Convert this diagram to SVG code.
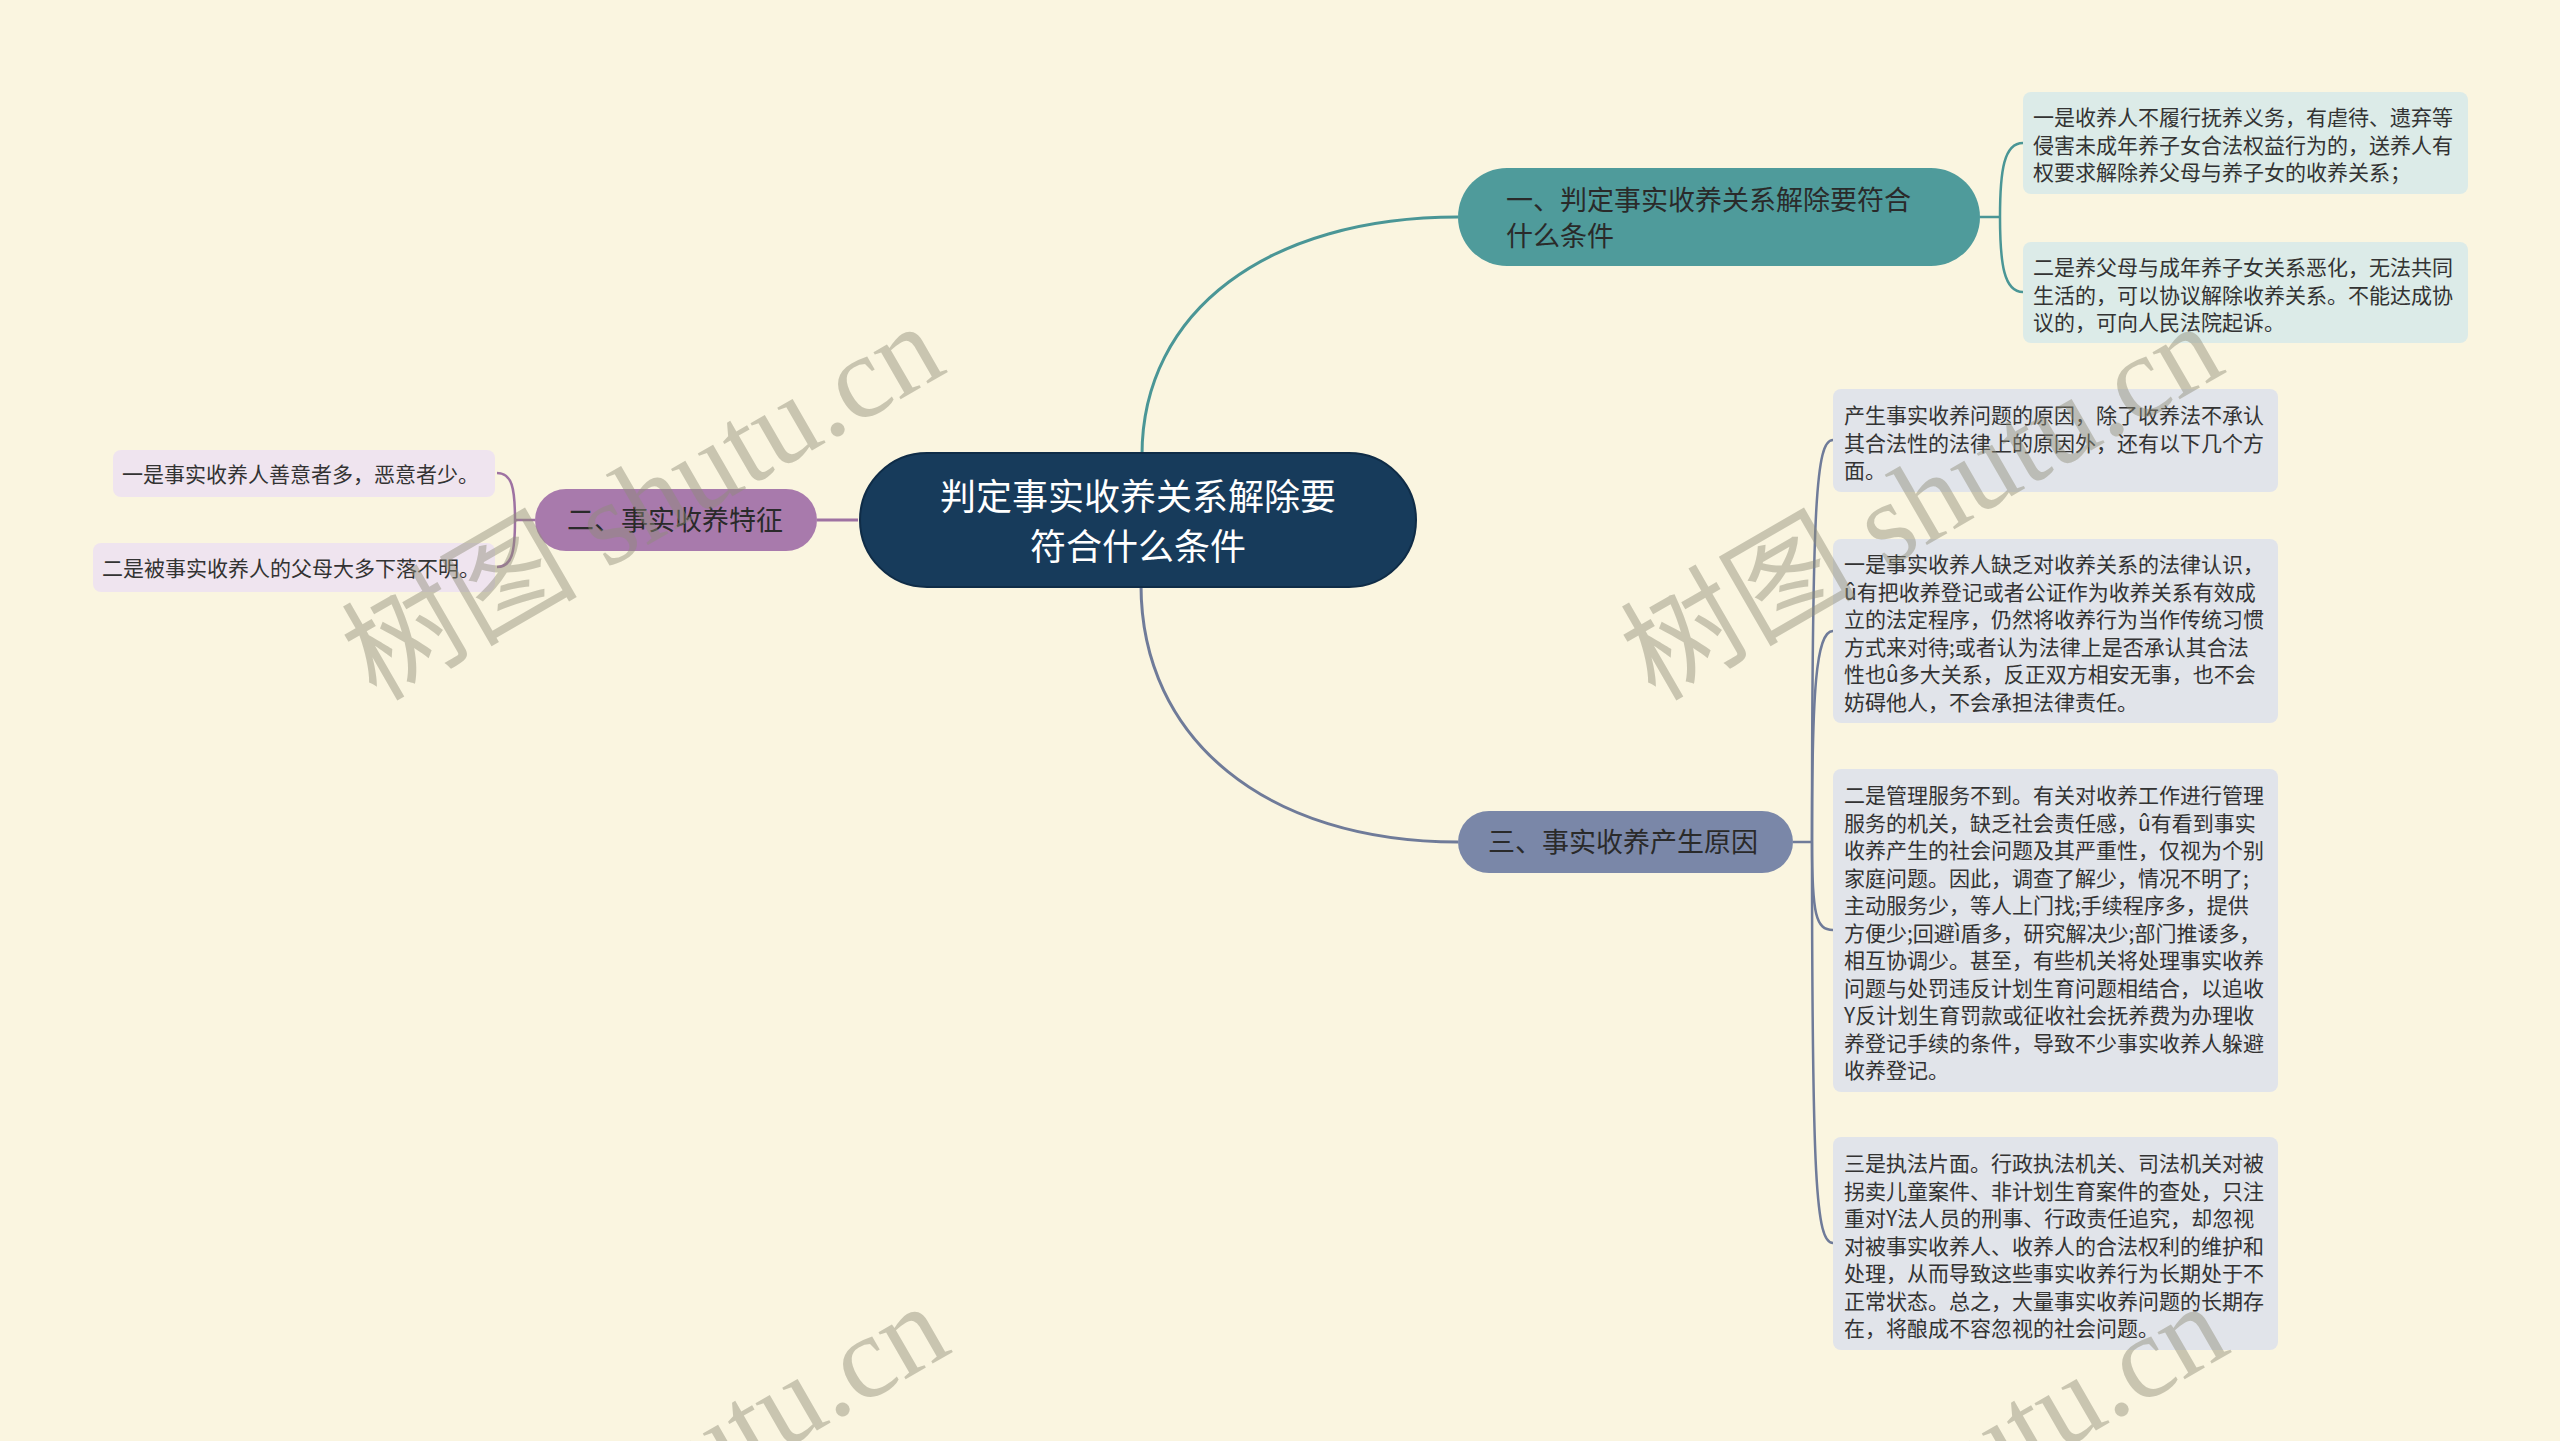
<svg xmlns="http://www.w3.org/2000/svg" width="2560" height="1441" viewBox="0 0 2560 1441">
<defs>
<style>
.bg{fill:#faf5e0}
.t{font-family:"Noto Sans CJK SC","Noto Sans",sans-serif}
.leaf{font-size:21px;fill:#333333}
.sub{font-size:27px;fill:#2a2a2a}
.root{font-size:36px;fill:#ffffff}
.c1{fill:none;stroke:#4a9696;stroke-width:3}
.c2{fill:none;stroke:#9e72a2;stroke-width:3}
.c3{fill:none;stroke:#6f7b99;stroke-width:3}
.b1{fill:none;stroke:#4a9696;stroke-width:2.5}
.b2{fill:none;stroke:#9e72a2;stroke-width:2.5}
.b3{fill:none;stroke:#6f7b99;stroke-width:2.5}
.l1{fill:#dcebe8}
.l2{fill:#efe4ef}
.l3{fill:#e1e4ea}
.wm{font-family:"Liberation Serif","Noto Sans CJK SC",serif;font-size:118px;fill:#8f8d78;opacity:0.45}
</style>
</defs>
<rect class="bg" x="0" y="0" width="2560" height="1441"/>

<g id="connectors">
<path class="c1" d="M1142,455 C1142,311 1268,217 1458,217"/>
<path class="c3" d="M1141,585 C1141,740 1267,842 1458,842"/>
<path class="c2" d="M858,520 L817,520"/>
<path class="b1" d="M1980,217 L2000,217"/>
<path class="b1" d="M2000,217 C2000,170 2004,143 2023,143"/>
<path class="b1" d="M2000,217 C2000,264 2004,292 2023,292"/>
<path class="b2" d="M535,520 L515,520"/>
<path class="b2" d="M515,520 C515,488 512,473 497,473"/>
<path class="b2" d="M515,520 C515,552 512,567 497,567"/>
<path class="b3" d="M1793,842 L1812,842"/>
<path class="b3" d="M1812,842 C1812,500 1816,440 1833,440"/>
<path class="b3" d="M1812,842 C1812,690 1816,631 1833,631"/>
<path class="b3" d="M1812,842 C1812,915 1816,930 1833,930"/>
<path class="b3" d="M1812,842 C1812,1183 1816,1243 1833,1243"/>
</g>

<g id="root">
<rect x="860" y="453" width="556" height="134" rx="67" fill="#173b5b" stroke="#0f2c47" stroke-width="2"/>
<text class="t root" x="1138" y="510" text-anchor="middle">判定事实收养关系解除要</text>
<text class="t root" x="1138" y="560" text-anchor="middle">符合什么条件</text>
</g>

<g id="node1">
<rect x="1458" y="168" width="522" height="98" rx="49" fill="#4f9b9b"/>
<text class="t sub" x="1506" y="210">一、判定事实收养关系解除要符合</text>
<text class="t sub" x="1506" y="246">什么条件</text>
</g>
<g id="node1-leaf1">
<rect class="l1" x="2023" y="92" width="445" height="102" rx="8"/>
<text class="t leaf" x="2033" y="125">一是收养人不履行抚养义务，有虐待、遗弃等</text>
<text class="t leaf" x="2033" y="152.5">侵害未成年养子女合法权益行为的，送养人有</text>
<text class="t leaf" x="2033" y="180">权要求解除养父母与养子女的收养关系；</text>
</g>
<g id="node1-leaf2">
<rect class="l1" x="2023" y="242" width="445" height="101" rx="8"/>
<text class="t leaf" x="2033" y="275">二是养父母与成年养子女关系恶化，无法共同</text>
<text class="t leaf" x="2033" y="302.5">生活的，可以协议解除收养关系。不能达成协</text>
<text class="t leaf" x="2033" y="330">议的，可向人民法院起诉。</text>
</g>

<g id="node2">
<rect x="535" y="489" width="282" height="62" rx="31" fill="#a87aac"/>
<text class="t sub" x="567" y="530">二、事实收养特征</text>
</g>
<g id="node2-leaf1">
<rect class="l2" x="113" y="450" width="382" height="47" rx="8"/>
<text class="t leaf" x="122" y="482">一是事实收养人善意者多，恶意者少。</text>
</g>
<g id="node2-leaf2">
<rect class="l2" x="93" y="543" width="402" height="49" rx="8"/>
<text class="t leaf" x="102" y="576">二是被事实收养人的父母大多下落不明。</text>
</g>

<g id="node3">
<rect x="1458" y="811" width="335" height="62" rx="31" fill="#7a87a8"/>
<text class="t sub" x="1488" y="852">三、事实收养产生原因</text>
</g>
<g id="node3-leaf1">
<rect class="l3" x="1833" y="389" width="445" height="103" rx="8"/>
<text class="t leaf" x="1844" y="423">产生事实收养问题的原因，除了收养法不承认</text>
<text class="t leaf" x="1844" y="450.5">其合法性的法律上的原因外，还有以下几个方</text>
<text class="t leaf" x="1844" y="478">面。</text>
</g>
<g id="node3-leaf2">
<rect class="l3" x="1833" y="539" width="445" height="184" rx="8"/>
<text class="t leaf" x="1844" y="572">一是事实收养人缺乏对收养关系的法律认识，</text>
<text class="t leaf" x="1844" y="599.5">û有把收养登记或者公证作为收养关系有效成</text>
<text class="t leaf" x="1844" y="627">立的法定程序，仍然将收养行为当作传统习惯</text>
<text class="t leaf" x="1844" y="654.5">方式来对待;或者认为法律上是否承认其合法</text>
<text class="t leaf" x="1844" y="682">性也û多大关系，反正双方相安无事，也不会</text>
<text class="t leaf" x="1844" y="709.5">妨碍他人，不会承担法律责任。</text>
</g>
<g id="node3-leaf3">
<rect class="l3" x="1833" y="769" width="445" height="323" rx="8"/>
<text class="t leaf" x="1844" y="803">二是管理服务不到。有关对收养工作进行管理</text>
<text class="t leaf" x="1844" y="830.5">服务的机关，缺乏社会责任感，û有看到事实</text>
<text class="t leaf" x="1844" y="858">收养产生的社会问题及其严重性，仅视为个别</text>
<text class="t leaf" x="1844" y="885.5">家庭问题。因此，调查了解少，情况不明了;</text>
<text class="t leaf" x="1844" y="913">主动服务少，等人上门找;手续程序多，提供</text>
<text class="t leaf" x="1844" y="940.5">方便少;回避ì盾多，研究解决少;部门推诿多，</text>
<text class="t leaf" x="1844" y="968">相互协调少。甚至，有些机关将处理事实收养</text>
<text class="t leaf" x="1844" y="995.5">问题与处罚违反计划生育问题相结合，以追收</text>
<text class="t leaf" x="1844" y="1023">Y反计划生育罚款或征收社会抚养费为办理收</text>
<text class="t leaf" x="1844" y="1050.5">养登记手续的条件，导致不少事实收养人躲避</text>
<text class="t leaf" x="1844" y="1078">收养登记。</text>
</g>
<g id="node3-leaf4">
<rect class="l3" x="1833" y="1137" width="445" height="213" rx="8"/>
<text class="t leaf" x="1844" y="1171">三是执法片面。行政执法机关、司法机关对被</text>
<text class="t leaf" x="1844" y="1198.5">拐卖儿童案件、非计划生育案件的查处，只注</text>
<text class="t leaf" x="1844" y="1226">重对Y法人员的刑事、行政责任追究，却忽视</text>
<text class="t leaf" x="1844" y="1253.5">对被事实收养人、收养人的合法权利的维护和</text>
<text class="t leaf" x="1844" y="1281">处理，从而导致这些事实收养行为长期处于不</text>
<text class="t leaf" x="1844" y="1308.5">正常状态。总之，大量事实收养问题的长期存</text>
<text class="t leaf" x="1844" y="1336">在，将酿成不容忽视的社会问题。</text>
</g>

<g id="watermarks">
<text class="wm" transform="translate(376,702) rotate(-30)">树图 shutu.cn</text>
<text class="wm" transform="translate(1655,702) rotate(-30)">树图 shutu.cn</text>
<text class="wm" transform="translate(381,1682) rotate(-30)">树图 shutu.cn</text>
<text class="wm" transform="translate(1660,1682) rotate(-30)">树图 shutu.cn</text>
</g>
</svg>
